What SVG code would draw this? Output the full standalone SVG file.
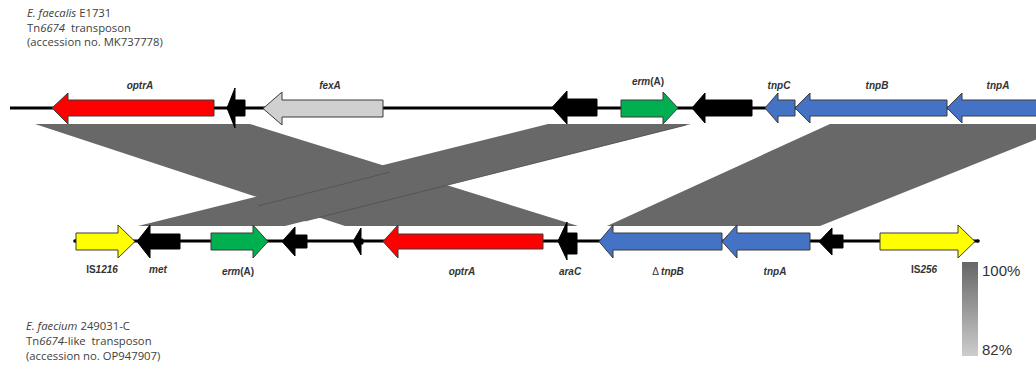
<svg xmlns="http://www.w3.org/2000/svg" width="1036" height="365" viewBox="0 0 1036 365">
  <defs>
    <linearGradient id="identity" x1="0" y1="0" x2="0" y2="1">
      <stop offset="0" stop-color="#666666"/>
      <stop offset="1" stop-color="#cdcdcd"/>
    </linearGradient>
    <style>
      .info { font-family: "Open Sans", "Liberation Sans", sans-serif; font-size: 11.3px; fill: #404040; }
      .lbl { font-family: "Liberation Sans", Arial, sans-serif; font-size: 10px; font-weight: bold; font-style: italic; fill: #333333; text-anchor: middle; }
      .up { font-style: normal; }
      .track { stroke: #000000; stroke-width: 3; fill: none; }
      .hit { fill: #686868; stroke: none; }
      .seam { stroke: #505050; stroke-width: 0.8; fill: none; }
      .gene { stroke: #3a3a3a; stroke-width: 1; stroke-linejoin: miter; }
      .red { fill: #ff0000; }
      .grey { fill: #d0d0d0; }
      .green { fill: #00b050; }
      .blue { fill: #4472c4; }
      .yellow { fill: #ffff00; }
      .black { fill: #000000; stroke: #000000; }
      .scale { font-family: "Liberation Sans", Arial, sans-serif; font-size: 15px; fill: #333333; }
    </style>
  </defs>

  <!-- strain captions -->
  <g id="caption-top">
    <text class="info" x="27" y="17"><tspan font-style="italic">E. faecalis</tspan> E1731</text>
    <text class="info" x="27" y="32">Tn<tspan font-style="italic">6674</tspan>&#160; transposon</text>
    <text class="info" x="27" y="46">(accession no. MK737778)</text>
  </g>
  <g id="caption-bottom">
    <text class="info" x="26" y="330"><tspan font-style="italic">E. faecium</tspan> 249031-C</text>
    <text class="info" x="26" y="345">Tn<tspan font-style="italic">6674</tspan>-like&#160; transposon</text>
    <text class="info" x="26" y="360">(accession no. OP947907)</text>
  </g>

  <!-- homology blocks between the two elements -->
  <g id="connectors">
    <polygon class="hit" points="35,124 250,124 578,226 345,226"/>
    <polygon class="hit" points="830,124 1075,124 820,226 607,226"/>
    <polygon class="hit" points="548,124 691,124 285,226 138,226"/>
    <line class="seam" x1="686" y1="125" x2="305" y2="221"/>
    <line class="seam" x1="390" y1="172" x2="258" y2="206"/>
  </g>

  <!-- backbone lines -->
  <line class="track" x1="10" y1="108" x2="1036" y2="108"/>
  <line class="track" x1="75" y1="241" x2="978" y2="241" stroke-width="2.5"/>
  <circle cx="75" cy="241" r="1.8" fill="#000"/>
  <circle cx="978" cy="241" r="1.8" fill="#000"/>

  <!-- upper element genes -->
  <g id="top-optrA"><polygon class="gene red" points="214,100 68,100 68,93 52,108 68,124 68,116 214,116"/>
    <text class="lbl" x="140" y="89">optrA</text></g>
  <g id="top-orf1"><polygon class="gene black" points="245,100 235,100 235,88 227,108 235,128 235,116 245,116"/></g>
  <g id="top-fexA"><polygon class="gene grey" points="383,100 282,100 282,92 263,108.5 282,125 282,117 383,117"/>
    <text class="lbl" x="330" y="89">fexA</text></g>
  <g id="top-orf2"><polygon class="gene black" points="597,99 567,99 567,91 552,107.5 567,124 567,116 597,116"/></g>
  <g id="top-ermA"><polygon class="gene green" points="621,100 663,100 663,92 678,108 663,124 663,117 621,117"/>
    <text class="lbl" x="648" y="85"><tspan>erm</tspan><tspan class="up">(A)</tspan></text></g>
  <g id="top-orf3"><polygon class="gene black" points="752,100 705,100 705,93 692,108 705,123 705,116 752,116"/></g>
  <g id="top-tnpC"><polygon class="gene blue" points="795,100 778,100 778,93 765,108 778,123 778,116 795,116"/>
    <text class="lbl" x="779" y="89">tnpC</text></g>
  <g id="top-tnpB"><polygon class="gene blue" points="947,100 810,100 810,93 795,108 810,123 810,116 947,116"/>
    <text class="lbl" x="877" y="89">tnpB</text></g>
  <g id="top-tnpA"><polygon class="gene blue" points="1040,100 962,100 962,93 947,108 962,123 962,116 1040,116"/>
    <text class="lbl" x="998" y="89">tnpA</text></g>

  <!-- lower element genes -->
  <g id="bot-IS1216"><polygon class="gene yellow" points="76,233 118,233 118,225 135,241.5 118,258 118,250 76,250"/>
    <text class="lbl" x="102" y="273"><tspan class="up">IS</tspan>1216</text></g>
  <g id="bot-met"><polygon class="gene black" points="180,234 150,234 150,225 137,241.5 150,258 150,249 180,249"/>
    <text class="lbl" x="158" y="273">met</text></g>
  <g id="bot-ermA"><polygon class="gene green" points="211,233 253,233 253,225 268,241.5 253,258 253,250 211,250"/>
    <text class="lbl" x="238" y="275"><tspan>erm</tspan><tspan class="up">(A)</tspan></text></g>
  <g id="bot-orf1"><polygon class="gene black" points="307,235 295,235 295,227 282,241.5 295,256 295,248 307,248"/></g>
  <g id="bot-orf2"><polygon class="gene black" points="363,239 361,239 361,228 353,241.5 361,255 361,244 363,244"/></g>
  <g id="bot-optrA"><polygon class="gene red" points="543,234 398,234 398,225 383,241.5 398,258 398,249 543,249"/>
    <text class="lbl" x="462" y="275">optrA</text></g>
  <g id="bot-araC"><polygon class="gene black" points="577,233 567,233 567,222 558,241 567,260 567,254 577,254"/>
    <text class="lbl" x="570" y="275">araC</text></g>
  <g id="bot-dtnpB"><polygon class="gene blue" points="722,233 613,233 613,225 599,241.5 613,258 613,250 722,250"/>
    <text class="lbl" x="668" y="275"><tspan class="up" font-weight="normal">Δ </tspan>tnpB</text></g>
  <g id="bot-tnpA"><polygon class="gene blue" points="810,233 737,233 737,225 722,241.5 737,258 737,250 810,250"/>
    <text class="lbl" x="775" y="275">tnpA</text></g>
  <g id="bot-orf3"><polygon class="gene black" points="843,235 832,235 832,228 819,241.5 832,255 832,248 843,248"/></g>
  <g id="bot-IS256"><polygon class="gene yellow" points="880,233 958,233 958,225 975,241.5 958,258 958,250 880,250"/>
    <text class="lbl" x="924" y="273"><tspan class="up">IS</tspan>256</text></g>

  <!-- identity scale -->
  <g id="identity-scale">
    <rect x="962" y="262" width="16" height="94" fill="url(#identity)"/>
    <text class="scale" x="982" y="276">100%</text>
    <text class="scale" x="982" y="355">82%</text>
  </g>
</svg>
